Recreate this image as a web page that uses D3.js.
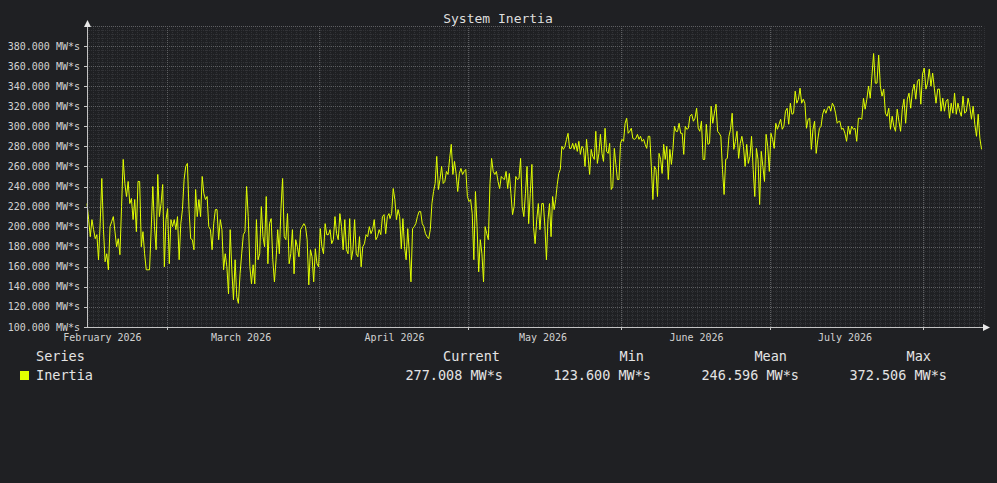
<!DOCTYPE html>
<html>
<head>
<meta charset="utf-8">
<script src="https://cdn.jsdelivr.net/npm/d3@7"></script>
<style>
html, body { margin: 0; padding: 0; background: #1f2023; }
svg { display: block; font-family: "DejaVu Sans Mono", monospace; }
</style>
</head>
<body>
<svg id="chart" width="997" height="483"></svg>
<script>
const chartTitle = "System Inertia";
const unitLabel = "MW*s";
const yTicks = [100, 120, 140, 160, 180, 200, 220, 240, 260, 280, 300, 320, 340, 360, 380];
const monthTicks = [new Date(2026, 1, 1), new Date(2026, 2, 1), new Date(2026, 3, 1),
                    new Date(2026, 4, 1), new Date(2026, 5, 1), new Date(2026, 6, 1)];
const majorGridDates = [new Date(2026, 1, 14), new Date(2026, 2, 16, 19), new Date(2026, 3, 15, 19),
                        new Date(2026, 4, 16, 18), new Date(2026, 5, 15, 19), new Date(2026, 6, 16, 19)];

// inertia samples per block, evenly spaced between the block's first and last time
const inertiaFeb = [223, 207, 190, 207, 197, 188, 192, 167, 203, 248, 197, 165, 173, 157, 200, 205, 210, 195, 180, 188,
  172, 220, 267, 243, 230, 245, 223, 228, 207, 227, 195, 245, 245, 180, 195, 173, 157, 157, 157, 197,
  240, 200, 177, 252, 210, 223, 242, 160, 207, 218, 163, 207, 200, 207, 197, 210, 167, 203, 217, 247,
  260, 263, 217, 188, 187, 177, 237, 210, 227, 210, 250, 233, 227, 230, 200, 197, 177, 203, 217, 217,
  187, 207, 197, 157, 173, 160, 133, 197, 157, 127, 167, 130, 123.6, 153];
const inertiaMar = [173, 192, 195, 240, 210, 160, 143, 162, 143, 207, 167, 173, 220, 190, 180, 230, 163, 203, 208, 167,
  145, 167, 197, 173, 218, 248, 190, 187, 213, 163, 173, 197, 153, 187, 180, 170, 197, 200, 203, 200,
  187, 142, 177, 170, 145, 178, 163, 160, 198, 180, 173, 203, 192, 192, 197, 183, 187, 210, 193, 187,
  213, 200, 177, 207, 177, 173, 208, 167, 177, 207, 173, 170, 190, 160, 180, 183, 192, 190, 200, 193,
  197, 207, 187, 190, 197, 192, 210, 212, 193, 210, 213];
const inertiaApr = [208, 213, 238, 227, 207, 217, 210, 178, 208, 180, 167, 198, 173, 145, 198, 200, 203, 210, 215, 215,
  203, 200, 193, 190, 188, 197, 223, 235, 243, 270, 237, 247, 260, 243, 245, 255, 252, 268, 282, 252,
  265, 253, 235, 253, 258, 252, 255, 257, 230, 225, 227, 213, 167, 235, 200, 155, 187, 173, 145, 200,
  193, 187, 243, 268, 255, 252, 255, 245, 238, 250, 248, 247, 255, 238, 253, 233, 212, 220, 250, 247,
  248, 268, 220, 210, 233, 260, 203, 233, 262, 200, 183, 207, 223, 197];
const inertiaMay = [223, 223, 200, 167, 207, 223, 190, 230, 217, 227, 242, 253, 257, 280, 277, 280, 287, 293, 278, 278,
  283, 277, 283, 275, 285, 272, 280, 278, 260, 287, 270, 252, 277, 270, 267, 295, 263, 273, 292, 273,
  265, 298, 275, 273, 283, 237, 240, 278, 262, 247, 247, 283, 287, 285, 303, 308, 293, 295, 298, 288,
  287, 288, 292, 287, 290, 285, 287, 282, 278, 290, 290, 260, 227, 260, 257, 230, 273, 267, 253, 282,
  267, 280, 247, 277, 262, 277, 300, 295, 295, 303, 293, 293, 272, 300, 297, 298, 310];
const inertiaJun = [312, 305, 308, 318, 298, 295, 305, 267, 267, 302, 282, 283, 320, 303, 313, 322, 295, 293, 290, 257,
  232, 267, 268, 290, 297, 313, 277, 285, 295, 268, 283, 290, 280, 260, 282, 263, 270, 290, 257, 230,
  278, 267, 222, 275, 260, 245, 292, 280, 255, 293, 287, 278, 303, 297, 302, 307, 297, 300, 315, 318,
  302, 323, 312, 313, 335, 323, 327, 338, 323, 327, 323, 298, 307, 308, 277, 297, 305, 273, 287, 298,
  300, 312, 317, 313, 318, 320, 315, 323, 320, 313, 303, 305];
const inertiaJul = [305, 297, 298, 293, 285, 300, 292, 300, 297, 298, 285, 308, 308, 307, 328, 317, 327, 340, 328, 350,
  372.506, 343, 343, 371, 340, 330, 337, 313, 310, 318, 297, 310, 300, 295, 317, 305, 295, 317, 327, 303,
  327, 333, 318, 335, 342, 327, 345, 347, 322, 352, 358, 337, 343, 357, 340, 353, 338, 323, 337, 337,
  315, 328, 315, 325, 327, 308, 323, 313, 333, 312, 323, 315, 310, 330, 313, 315, 328, 320, 307, 320,
  302, 290, 312, 288, 277.008];

// first and last sample time of each block
const blockTimes = [
  [new Date(2026, 0, 28, 21), new Date(2026, 1, 28, 19)],
  [new Date(2026, 2, 1, 3), new Date(2026, 2, 30, 21)],
  [new Date(2026, 2, 31, 2), new Date(2026, 3, 30, 9)],
  [new Date(2026, 3, 30, 18), new Date(2026, 4, 30, 16)],
  [new Date(2026, 4, 31, 1), new Date(2026, 5, 29, 18)],
  [new Date(2026, 5, 29, 23), new Date(2026, 6, 28, 14)]
];

const legendHeaders = ["Current", "Min", "Mean", "Max"];
const legendValues = [277.008, 123.600, 246.596, 372.506];
const seriesName = "Inertia";

const blocks = [inertiaFeb, inertiaMar, inertiaApr, inertiaMay, inertiaJun, inertiaJul];
const points = [];
blocks.forEach(function (vals, b) {
    let t0 = +blockTimes[b][0], t1 = +blockTimes[b][1];
    let step = (t1 - t0) / (vals.length - 1);
    vals.forEach((v, i) => points.push({ t: new Date(t0 + i * step), v: v }));
});

const svg = d3.select("#chart");
const left = 87, right = 985, bottom = 327;

const x = d3.scaleTime()
    .domain([new Date(2026, 0, 28, 21), new Date(2026, 6, 29, 6, 40)])
    .range([left, right]);
const y = d3.scaleLinear()
    .domain([100, 400])
    .range([bottom, bottom - 300 * 281 / 280]);

const crisp = v => Math.round(v) + 0.5;
const fmt = d3.format(".3f");

// minor grid
let minorH = d3.range(104, 400, 4).filter(v => v % 20 !== 0);
let minorV = d3.timeDay.range(x.domain()[0], x.domain()[1]);
let grid = svg.append("g");
grid.selectAll("line.mh").data(minorH).join("line")
    .attr("x1", left).attr("x2", right - 2)
    .attr("y1", d => crisp(y(d))).attr("y2", d => crisp(y(d)))
    .attr("stroke", "#323337").attr("stroke-dasharray", "1,1");
grid.selectAll("line.mv").data(minorV).join("line")
    .attr("x1", d => crisp(x(d))).attr("x2", d => crisp(x(d)))
    .attr("y1", bottom).attr("y2", crisp(y(400)))
    .attr("stroke", "#323337").attr("stroke-dasharray", "1,1");

// major grid
grid.selectAll("line.jh").data(yTicks.concat([400]).slice(1)).join("line")
    .attr("x1", left).attr("x2", right - 2)
    .attr("y1", d => crisp(y(d))).attr("y2", d => crisp(y(d)))
    .attr("stroke", "#5e5f62").attr("stroke-dasharray", "1,1");
grid.selectAll("line.jv").data(majorGridDates).join("line")
    .attr("x1", d => crisp(x(d))).attr("x2", d => crisp(x(d)))
    .attr("y1", bottom).attr("y2", crisp(y(400)))
    .attr("stroke", "#5e5f62").attr("stroke-dasharray", "1,1");

// series line
let line = d3.line().x(d => x(d.t)).y(d => y(d.v));
svg.append("path").datum(points)
    .attr("d", line)
    .attr("fill", "none")
    .attr("stroke", "#e2ff00")
    .attr("stroke-width", 1)
    .attr("stroke-linejoin", "round");

// axes
let axisColor = "#c4c4c4";
svg.append("line").attr("x1", left + 0.5).attr("x2", left + 0.5)
    .attr("y1", bottom + 1).attr("y2", 24).attr("stroke", axisColor);
svg.append("path").attr("d", `M${left + 0.5},20 L${left - 3},27 L${left + 4},27 Z`).attr("fill", "#e8e8e8");
svg.append("line").attr("x1", left).attr("x2", right + 1)
    .attr("y1", bottom + 0.5).attr("y2", bottom + 0.5).attr("stroke", axisColor);
svg.append("path").attr("d", `M${right + 5},${bottom + 0.5} L${right - 2},${bottom - 3} L${right - 2},${bottom + 4} Z`).attr("fill", "#e8e8e8");

let yAxis = svg.append("g");
yAxis.selectAll("line").data(yTicks).join("line")
    .attr("x1", left - 3).attr("x2", left)
    .attr("y1", d => crisp(y(d))).attr("y2", d => crisp(y(d)))
    .attr("stroke", axisColor);
yAxis.selectAll("text").data(yTicks).join("text")
    .attr("x", left - 7).attr("y", d => y(d) + 3.5)
    .attr("text-anchor", "end")
    .attr("font-size", "10px")
    .attr("fill", "#d2d2d2")
    .text(d => fmt(d) + " " + unitLabel);

let xAxis = svg.append("g");
xAxis.selectAll("line").data(majorGridDates).join("line")
    .attr("x1", d => crisp(x(d))).attr("x2", d => crisp(x(d)))
    .attr("y1", bottom).attr("y2", bottom + 3)
    .attr("stroke", axisColor);
xAxis.selectAll("text").data(monthTicks).join("text")
    .attr("x", d => x(d)).attr("y", bottom + 14)
    .attr("text-anchor", "middle")
    .attr("font-size", "10px")
    .attr("fill", "#d2d2d2")
    .text(d => d3.timeFormat("%B %Y")(d));

// title
svg.append("text").attr("x", 498).attr("y", 23)
    .attr("text-anchor", "middle").attr("font-size", "13px").attr("fill", "#dedede")
    .text(chartTitle);

// legend
let legend = svg.append("g").attr("font-size", "13.5px").attr("fill", "#e4e4e4");
legend.append("text").attr("x", 36).attr("y", 361).text("Series");
legend.append("rect").attr("x", 20).attr("y", 371).attr("width", 9).attr("height", 9).attr("fill", "#e2ff00");
legend.append("text").attr("x", 36).attr("y", 380).text(seriesName);
let headerEnds = [500, 644, 787, 931];
let valueEnds = [503, 651, 799, 947];
legend.selectAll("text.h").data(legendHeaders).join("text")
    .attr("x", (d, i) => headerEnds[i]).attr("y", 361).attr("text-anchor", "end")
    .text(d => d);
legend.selectAll("text.v").data(legendValues).join("text")
    .attr("x", (d, i) => valueEnds[i]).attr("y", 380).attr("text-anchor", "end")
    .text(d => fmt(d) + " " + unitLabel);
</script>
</body>
</html>
